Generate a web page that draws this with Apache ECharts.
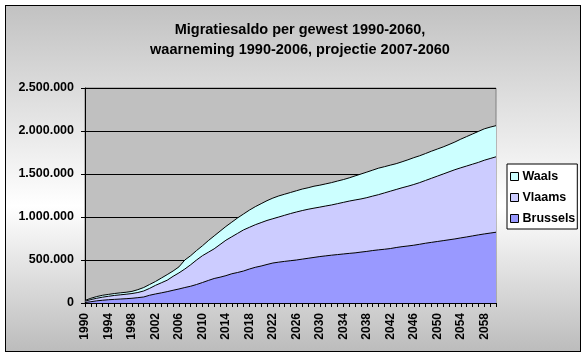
<!DOCTYPE html>
<html>
<head>
<meta charset="utf-8">
<script src="https://cdn.jsdelivr.net/npm/echarts@6/dist/echarts.min.js"></script>
<style>
  html, body { margin: 0; padding: 0; background: #ffffff; }
  #frame {
    position: absolute; left: 5px; top: 5px; width: 574px; height: 345px;
    border: 1px solid #000;
    background: linear-gradient(to bottom, #c2c2c2 0%, #ffffff 58%, #bcbcbc 100%);
  }
  #chart { position: absolute; left: 0; top: 0; width: 587px; height: 358px; }
</style>
</head>
<body>
<div id="frame"></div>
<div id="chart"></div>
<script>
// Years 1990..2060
const years = [
  '1990','1991','1992','1993','1994','1995','1996','1997','1998','1999',
  '2000','2001','2002','2003','2004','2005','2006','2007','2008','2009',
  '2010','2011','2012','2013','2014','2015','2016','2017','2018','2019',
  '2020','2021','2022','2023','2024','2025','2026','2027','2028','2029',
  '2030','2031','2032','2033','2034','2035','2036','2037','2038','2039',
  '2040','2041','2042','2043','2044','2045','2046','2047','2048','2049',
  '2050','2051','2052','2053','2054','2055','2056','2057','2058','2059',
  '2060'
];

// Values in thousands
const brussels = [
  5,15,25,32,38,42,46,50,55,62,
  70,90,105,118,132,148,163,180,195,215,
  238,262,285,300,318,340,355,372,395,415,
  430,448,465,475,484,492,500,510,520,530,
  540,548,556,563,570,577,583,592,600,610,
  618,625,633,645,655,663,672,683,695,705,
  715,725,735,745,757,768,780,792,803,813,
  823
];
const vlaams = [
  15,25,30,36,40,46,49,52,55,60,
  70,80,100,117,133,162,187,215,250,285,
  312,328,345,380,412,430,455,478,485,495,
  505,512,515,525,536,548,558,565,570,573,
  575,580,584,592,600,608,615,618,625,633,
  642,655,667,675,685,695,706,717,730,745,
  760,775,790,805,815,825,834,843,857,867,
  877
];
const waals = [
  10,15,20,22,22,22,23,23,25,33,
  40,45,45,55,65,62,70,105,105,110,
  115,135,150,155,160,170,180,185,200,210,
  220,230,240,245,245,245,247,250,250,255,
  255,257,260,263,265,270,280,290,297,302,
  308,305,303,300,302,307,312,312,313,315,
  315,315,318,322,333,342,351,360,365,365,
  362
];

const yTickLabels = ['0','500.000','1.000.000','1.500.000','2.000.000','2.500.000'];
const seriesNames = ['Brussels','Vlaams','Waals'];
const legendOrder = ['Waals','Vlaams','Brussels'];

const colors = { Brussels: '#9999ff', Vlaams: '#ccccff', Waals: '#ccffff' };
const dataMap = { Brussels: brussels, Vlaams: vlaams, Waals: waals };

const chart = echarts.init(document.getElementById('chart'), null, { renderer: 'canvas' });
const font = 'Arial, "Liberation Sans", sans-serif';

chart.setOption({
  animation: false,
  backgroundColor: 'transparent',
  textStyle: { fontFamily: font },
  title: {
    text: 'Migratiesaldo per gewest 1990-2060,\nwaarneming 1990-2006, projectie 2007-2060',
    left: 295, top: 15, textAlign: 'center',
    textStyle: { fontFamily: font, fontSize: 14.5, fontWeight: 'bold', color: '#000', lineHeight: 20 }
  },
  legend: {
    data: legendOrder,
    orient: 'vertical',
    left: 507, top: 164,
    padding: [6, 2, 4, 3],
    itemGap: 8,
    itemWidth: 8, itemHeight: 8,
    icon: 'rect',
    borderColor: '#000', borderWidth: 1,
    backgroundColor: '#ffffff',
    borderRadius: 0,
    itemStyle: { borderColor: '#000', borderWidth: 1 },
    textStyle: { fontFamily: font, fontSize: 12.5, fontWeight: 'bold', color: '#000', padding: [0, 0, 0, -1] }
  },
  grid: {
    left: 85, right: 91, top: 88, bottom: 55,
    show: true, backgroundColor: '#c0c0c0', borderColor: '#808080', borderWidth: 1
  },
  xAxis: {
    type: 'category',
    data: years,
    boundaryGap: false,
    axisLine: { lineStyle: { color: '#000', width: 1 } },
    axisTick: { show: true, interval: 0, length: 4, lineStyle: { color: '#000' } },
    axisLabel: {
      interval: 3, rotate: 90, margin: 10,
      fontFamily: font, fontSize: 12, fontWeight: 'bold', color: '#000'
    },
    splitLine: { show: false }
  },
  yAxis: {
    type: 'value',
    min: 0, max: 2500, interval: 500,
    axisLine: { show: true, lineStyle: { color: '#000', width: 1 } },
    axisTick: { show: true, length: 4, lineStyle: { color: '#000' } },
    axisLabel: {
      margin: 11,
      fontFamily: font, fontSize: 12.5, fontWeight: 'bold', color: '#000',
      formatter: v => yTickLabels[Math.round(v / 500)]
    },
    splitLine: { show: true, lineStyle: { color: '#000', width: 1 } }
  },
  series: seriesNames.map(name => ({
    name: name,
    type: 'line',
    stack: 'total',
    data: dataMap[name],
    symbol: 'none',
    smooth: false,
    color: colors[name],
    lineStyle: { color: '#000', width: 1 },
    areaStyle: { color: colors[name], opacity: 1 },
    itemStyle: { color: colors[name], borderColor: '#000', borderWidth: 1 }
  }))
});
</script>
</body>
</html>
